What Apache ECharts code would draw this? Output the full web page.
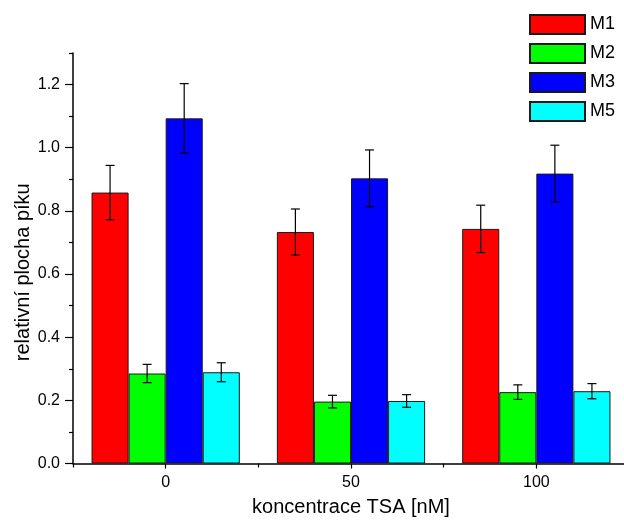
<!DOCTYPE html>
<html>
<head>
<meta charset="utf-8">
<script src="https://cdn.jsdelivr.net/npm/echarts@6/dist/echarts.min.js"></script>
<style>
  html, body { margin: 0; padding: 0; background: #fff; }
  #chart { width: 624px; height: 520px; }
</style>
</head>
<body>
<div id="chart"></div>
<script>
// ---- data ----
const categories = ['0', '50', '100'];
const seriesNames = ['M1', 'M2', 'M3', 'M5'];
const m1 = [0.858, 0.733, 0.743];
const m1Err = [0.086, 0.073, 0.075];
const m2 = [0.285, 0.196, 0.226];
const m2Err = [0.029, 0.020, 0.023];
const m3 = [1.093, 0.903, 0.918];
const m3Err = [0.110, 0.090, 0.090];
const m5 = [0.289, 0.198, 0.229];
const m5Err = [0.030, 0.020, 0.024];
const yMajorTicks = [0, 0.2, 0.4, 0.6, 0.8, 1.0, 1.2];
const yMinorTicks = [0.1, 0.3, 0.5, 0.7, 0.9, 1.1, 1.3];

const values = [m1, m2, m3, m5];
const errors = [m1Err, m2Err, m3Err, m5Err];
const colors = ['#ff0000', '#00ff00', '#0000ff', '#00ffff'];
const FONT = '"Liberation Sans", Arial, sans-serif';
const BAR_CAT_GAP = 0.2;
const NSER = 4;

const chart = echarts.init(document.getElementById('chart'), null, { renderer: 'canvas' });

const barSeries = seriesNames.map((n, si) => ({
  type: 'bar',
  name: n,
  xAxisIndex: 0,
  yAxisIndex: 0,
  data: values[si],
  barGap: '0%',
  barCategoryGap: '20%',
  itemStyle: { color: colors[si], borderColor: '#1a1a1a', borderWidth: 1 },
  emphasis: { disabled: true },
  z: 2
}));

const errSeries = seriesNames.map((n, si) => ({
  type: 'custom',
  name: n + ' err',
  xAxisIndex: 0,
  yAxisIndex: 0,
  silent: true,
  z: 5,
  data: categories.map((c, i) => [i, values[si][i], errors[si][i]]),
  encode: { x: 0, y: 1 },
  renderItem: function (params, api) {
    const ci = api.value(0), v = api.value(1), e = api.value(2);
    const band = api.size([1, 0])[0];
    const bw = band * (1 - BAR_CAT_GAP) / NSER;
    const cx = api.coord([ci, v])[0] - band * (1 - BAR_CAT_GAP) / 2 + bw * (si + 0.5);
    const yt = api.coord([ci, v + e])[1];
    const yb = api.coord([ci, v - e])[1];
    const cap = 4.5;
    const st = { stroke: '#000', lineWidth: 1.2 };
    return {
      type: 'group',
      children: [
        { type: 'line', shape: { x1: cx, y1: yt, x2: cx, y2: yb }, style: st },
        { type: 'line', shape: { x1: cx - cap, y1: yt, x2: cx + cap, y2: yt }, style: st },
        { type: 'line', shape: { x1: cx - cap, y1: yb, x2: cx + cap, y2: yb }, style: st }
      ]
    };
  }
}));

const option = {
  animation: false,
  backgroundColor: '#fff',
  textStyle: { fontFamily: FONT, color: '#000' },
  grid: { left: 73, top: 53, right: -5, bottom: 56.5, containLabel: false, outerBoundsMode: 'none' },
  legend: {
    data: seriesNames,
    icon: 'rect',
    orient: 'vertical',
    left: 524,
    top: 9,
    itemWidth: 55,
    itemHeight: 19,
    itemGap: 8,
    textStyle: { fontFamily: FONT, fontSize: 18, color: '#000' },
    selectedMode: false
  },
  xAxis: [
    {
      type: 'category',
      data: categories,
      position: 'bottom',
      name: 'koncentrace TSA [nM]',
      nameLocation: 'middle',
      nameGap: 34,
      nameMoveOverlap: false,
      nameTextStyle: { fontFamily: FONT, fontSize: 20, color: '#000' },
      axisLine: { show: true, lineStyle: { color: '#000', width: 1.5 } },
      axisTick: { show: true, alignWithLabel: false, length: 4, lineStyle: { color: '#000', width: 1.2 } },
      axisLabel: { fontFamily: FONT, fontSize: 16, color: '#000', margin: 11 },
      splitLine: { show: false }
    },
    {
      type: 'category',
      data: categories,
      position: 'bottom',
      axisLine: { show: false },
      axisTick: { show: true, alignWithLabel: true, length: 5, lineStyle: { color: '#000', width: 1.2 } },
      axisLabel: { show: false },
      splitLine: { show: false }
    }
  ],
  yAxis: [
    {
      type: 'value',
      min: 0,
      max: 1.3,
      position: 'left',
      name: 'relativní plocha píku',
      nameLocation: 'middle',
      nameGap: 40,
      nameMoveOverlap: false,
      nameTextStyle: { fontFamily: FONT, fontSize: 20, color: '#000', padding: [0, 28, 0, 0] },
      axisLine: { show: true, lineStyle: { color: '#000', width: 1.5 } },
      axisTick: { show: true, length: 8, customValues: yMajorTicks, lineStyle: { color: '#000', width: 1.2 } },
      axisLabel: {
        fontFamily: FONT, fontSize: 16, color: '#000', margin: 13,
        customValues: yMajorTicks,
        formatter: v => Number(v).toFixed(1)
      },
      splitLine: { show: false }
    },
    {
      type: 'value',
      min: 0,
      max: 1.3,
      position: 'left',
      axisLine: { show: false },
      axisTick: { show: true, length: 4, customValues: yMinorTicks, lineStyle: { color: '#000', width: 1.2 } },
      axisLabel: { show: false },
      splitLine: { show: false }
    }
  ],
  series: barSeries.concat(errSeries)
};

chart.setOption(option);
</script>
</body>
</html>
